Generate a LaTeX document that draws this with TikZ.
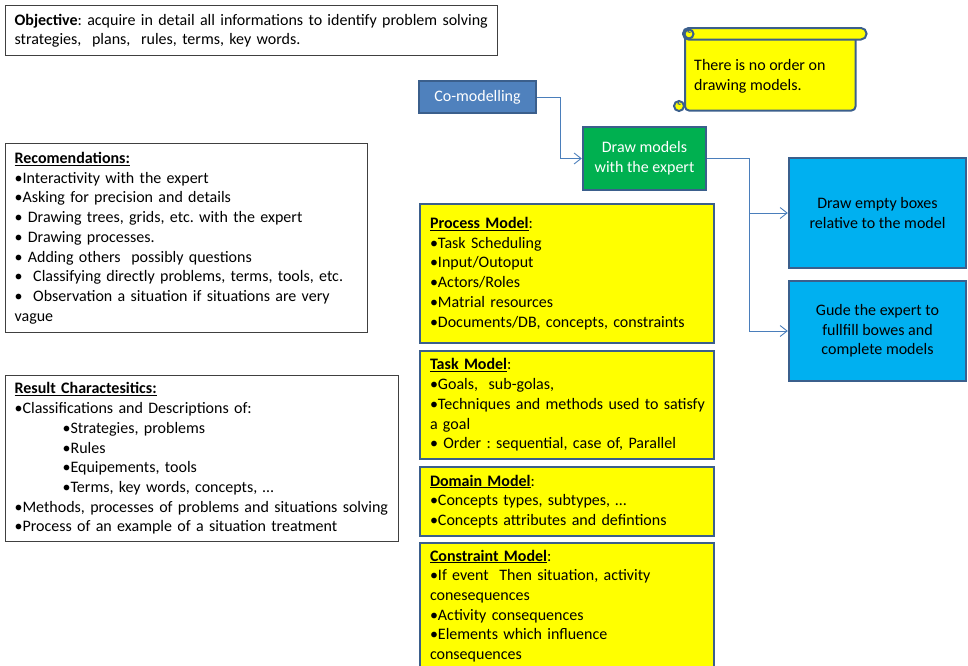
\documentclass[tikz,border=0pt]{standalone}
\usepackage{fontspec}
\setmainfont{Carlito}
\usetikzlibrary{arrows.meta}
\frenchspacing

\definecolor{edgeblue}{HTML}{3B5F8C}
\definecolor{linkblue}{HTML}{4A7EBB}
\definecolor{comodfill}{HTML}{4F81BD}
\definecolor{greenfill}{HTML}{00B050}
\definecolor{cyanfill}{HTML}{00B0F0}
\definecolor{notefill}{HTML}{FFFF00}
\definecolor{framegray}{HTML}{404040}

% keep a line of text on one line
\newcommand\oneline[1]{\mbox{#1}}

\begin{document}
\begin{tikzpicture}[x=1pt,y=-1pt,
  txt/.style={font=\fontsize{16}{19.7}\selectfont},
  whitebox/.style={txt, draw=framegray, line width=1.2pt, fill=white,
    anchor=north west, align=left, inner xsep=9pt, inner ysep=0pt},
  modelbox/.style={txt, draw=edgeblue, line width=2pt, fill=notefill,
    anchor=north west, align=left, inner xsep=10pt, inner ysep=0pt,
    text width=274pt},
  stepbox/.style={txt, draw=edgeblue, line width=2.4pt, align=center,
    inner sep=0pt},
  scrollpart/.style={draw=edgeblue, fill=notefill, line width=2pt},
  conn/.style={draw=linkblue, line width=0.9pt,
    -{Straight Barb[length=7pt,width=11pt]}},
]
\useasboundingbox (0,0) rectangle (968,665);
\clip (0,0) rectangle (968,665);

% objective
\node[whitebox, text width=474pt, minimum height=50pt] (obj) at (5,5)
  {\oneline{\textbf{Objective}: acquire in detail all informations to identify problem solving}\\
   strategies,\ \ plans,\ \ rules, terms, key words.};

% recommendations
\node[whitebox, text width=344pt, minimum height=189pt] (reco) at (5,143)
  {\underline{\textbf{Recomendations:}}\\
   •Interactivity with the expert\\
   •Asking for precision and details\\
   • Drawing trees, grids, etc. with the expert\\
   • Drawing processes.\\
   • Adding others\ \ possibly questions\\
   \oneline{•\ \ Classifying directly problems, terms, tools,\ etc.}\\
   \oneline{•\ \ Observation a situation if situations are very}\\
   vague};

% result characteristics
\node[whitebox, text width=375pt, minimum height=166pt] (result) at (5,375)
  {\underline{\textbf{Result Charactesitics:}}\\
   •Classifications and Descriptions of:\\
   \hspace*{48pt}•Strategies, problems\\
   \hspace*{48pt}•Rules\\
   \hspace*{48pt}•Equipements, tools\\
   \hspace*{48pt}•Terms, key words,\ concepts,\ …\\
   \oneline{•Methods, processes of problems and situations solving}\\
   •Process of an example of a situation treatment};

% models
\node[modelbox, minimum height=139pt] (process) at (419,203)
  {\underline{\textbf{Process Model}}:\\
   •Task Scheduling\\
   •Input/Outoput\\
   •Actors/Roles\\
   •Matrial resources\\
   \oneline{•Documents/DB, concepts,\ constraints}};

\node[modelbox, minimum height=108pt] (task) at (419,350)
  {\underline{\textbf{Task Model}}:\\
   •Goals,\ \ sub-golas,\\
   \oneline{•Techniques and methods\ used to satisfy}\\
   a goal\\
   • Order : sequential, case of, Parallel};

\node[modelbox, minimum height=69pt] (domain) at (419,466)
  {\underline{\textbf{Domain Model}}:\\
   •Concepts types,\ subtypes, …\\
   •Concepts attributes and defintions};

\node[modelbox, minimum height=126pt] (constraint) at (419,542)
  {\underline{\textbf{Constraint Model}}:\\
   •If event\ \ Then situation, activity\\
   conesequences\\
   •Activity consequences\\
   •Elements which influence\\
   consequences};

% process steps
\node[stepbox, fill=comodfill, text=white, minimum width=117pt,
  minimum height=32pt] (comod) at (477.5,97) {Co-modelling};
\node[stepbox, fill=greenfill, text=white, minimum width=123pt,
  minimum height=63pt] (drawm) at (644.5,158.5) {Draw models\\with the\ expert};
\node[stepbox, fill=cyanfill, minimum width=177pt,
  minimum height=110pt] (empty) at (877.5,213)
  {Draw empty boxes\\relative to the model};
\node[stepbox, fill=cyanfill, minimum width=177pt,
  minimum height=100pt] (guide) at (877.5,331)
  {Gude the\ expert to\\fullfill bowes and\\complete models};

% connectors
\draw[conn] (comod.east) -- ++(23,0) |- (drawm.west);
\draw[conn] (drawm.east) -- ++(42,0) |- (empty.west);
\draw[conn] (drawm.east) -- ++(42,0) |- (guide.west);

% scroll note
\draw[scrollpart, rounded corners=4pt] (685,34) -- (685,110.5) -- (855.5,110.5) -- (855.5,34);
\draw[scrollpart, rounded corners=5.5pt] (683,28) rectangle (866.5,39.5);
\draw[scrollpart] (689,34) circle (4.5);
\draw[edgeblue, line width=1pt] (690.5,32.5) arc (60:300:1.8);
\draw[scrollpart] (679,106) circle (5);
\draw[edgeblue, line width=1pt] (680.5,104.5) arc (60:300:1.8);
\node[txt, anchor=north west, align=left, inner sep=0pt] (note) at (694,59)
  {There is no order\ on\\drawing models.};
\end{tikzpicture}
\end{document}
